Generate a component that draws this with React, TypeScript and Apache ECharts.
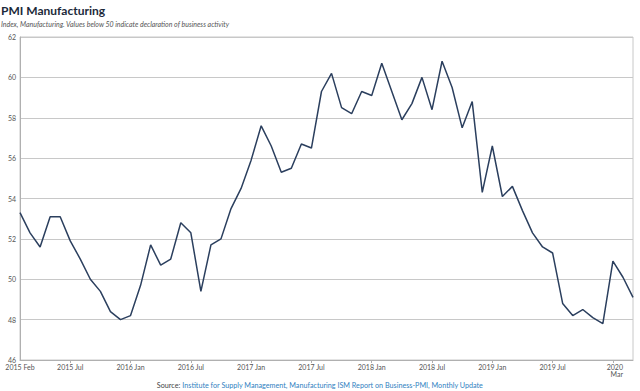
import React, { useEffect, useRef } from "react";
import * as echarts from "echarts";

const titleText = "PMI Manufacturing";
const subtitleText = "Index, Manufacturing. Values below 50 indicate declaration of business activity";
const sourceLabel = "Source:";
const sourceText = "Institute for Supply Management, Manufacturing ISM Report on Business-PMI, Monthly Update";

const monthNames = ["Jan", "Feb", "Mar", "Apr", "May", "Jun", "Jul", "Aug", "Sep", "Oct", "Nov", "Dec"];
const startYear = 2015;
const startMonth = 1; // Feb

const pmiValues = [
  // 2015 Feb-Dec
  53.3, 52.3, 51.6, 53.1, 53.1, 51.9, 51.0, 50.0, 49.4, 48.4, 48.0,
  // 2016
  48.2, 49.7, 51.7, 50.7, 51.0, 52.8, 52.3, 49.4, 51.7, 52.0, 53.5, 54.5,
  // 2017
  55.9, 57.6, 56.6, 55.3, 55.5, 56.7, 56.5, 59.3, 60.2, 58.5, 58.2, 59.3,
  // 2018
  59.1, 60.7, 59.3, 57.9, 58.7, 60.0, 58.4, 60.8, 59.5, 57.5, 58.8, 54.3,
  // 2019
  56.6, 54.1, 54.6, 53.4, 52.3, 51.6, 51.3, 48.8, 48.2, 48.5, 48.1, 47.8,
  // 2020 Jan-Mar
  50.9, 50.1, 49.1,
];

const categories = pmiValues.map((_, i) => {
  const m = startMonth + i;
  return `${startYear + Math.floor(m / 12)} ${monthNames[m % 12]}`;
});

const yTicks = [46, 48, 50, 52, 54, 56, 58, 60, 62];

export default function App() {
  const ref = useRef<HTMLDivElement>(null);
  useEffect(() => {
    if (!ref.current) return;
    const chart = echarts.init(ref.current, null, { renderer: "svg" });
    const last = categories.length - 1;
    const labelShown = (i: number) => i === 0 || i === last || ((i + 1) % 6 === 0 && i < last - 3);
    chart.setOption({
      animation: false,
      textStyle: { fontFamily: "Lato" },
      title: [
        {
          text: titleText,
          left: 1,
          top: 3,
          padding: 0,
          textStyle: { fontFamily: "Lato", fontSize: 12, fontWeight: "bold", color: "#1c2a3a", lineHeight: 14 },
        },
        {
          text: subtitleText,
          left: 1,
          top: 19,
          padding: 0,
          textStyle: { fontFamily: "Lato", fontSize: 7, fontStyle: "italic", fontWeight: "normal", color: "#555", lineHeight: 9 },
        },
        {
          text: `{a|${sourceLabel}} {b|${sourceText}}`,
          left: "center",
          top: 381,
          padding: 0,
          textStyle: {
            fontFamily: "Lato",
            fontSize: 7.2,
            fontWeight: "normal",
            lineHeight: 9,
            rich: {
              a: { fontFamily: "Lato", fontSize: 7.2, color: "#444", lineHeight: 9 },
              b: { fontFamily: "Lato", fontSize: 7.2, color: "#2f7fc1", lineHeight: 9 },
            },
          },
        },
      ],
      grid: {
        left: 20,
        right: 7,
        top: 37,
        bottom: 31,
        show: true,
        borderColor: "#c8c8c8",
        borderWidth: 1,
      },
      xAxis: {
        type: "category",
        data: categories,
        boundaryGap: false,
        axisLine: { show: true, lineStyle: { color: "#b0b0b0", width: 1 } },
        axisTick: {
          show: true,
          length: 3,
          interval: (i: number) => (i + 1) % 6 === 0,
          lineStyle: { color: "#b0b0b0" },
        },
        axisLabel: {
          interval: (i: number) => labelShown(i),
          fontSize: 7,
          color: "#555",
          margin: 3,
          lineHeight: 7,
          formatter: (v: string, i: number) => {
            if (i === last) {
              const [y, m] = v.split(" ");
              return `{last|${y}}\n{last|${m}}`;
            }
            return v;
          },
          rich: {
            last: { fontSize: 7, color: "#555", lineHeight: 7, align: "right", padding: [0, 10, 0, 0] },
          },
          alignMaxLabel: "right",
        },
        splitLine: { show: false },
      },
      yAxis: {
        type: "value",
        min: yTicks[0],
        max: yTicks[yTicks.length - 1],
        interval: 2,
        axisLine: { show: true, lineStyle: { color: "#b0b0b0", width: 1 } },
        axisTick: { show: false },
        axisLabel: { fontSize: 7, color: "#555", margin: 4 },
        splitLine: { show: true, lineStyle: { color: "#c8c8c8", width: 1 } },
      },
      series: [
        {
          type: "line",
          data: pmiValues,
          showSymbol: false,
          symbol: "none",
          lineStyle: { color: "#2b3f5e", width: 1.5 },
          itemStyle: { color: "#2b3f5e" },
        },
      ],
    });
    return () => chart.dispose();
  }, []);
  return <div ref={ref} style={{ width: 640, height: 391, position: "absolute", left: 0, top: 0 }} />;
}
